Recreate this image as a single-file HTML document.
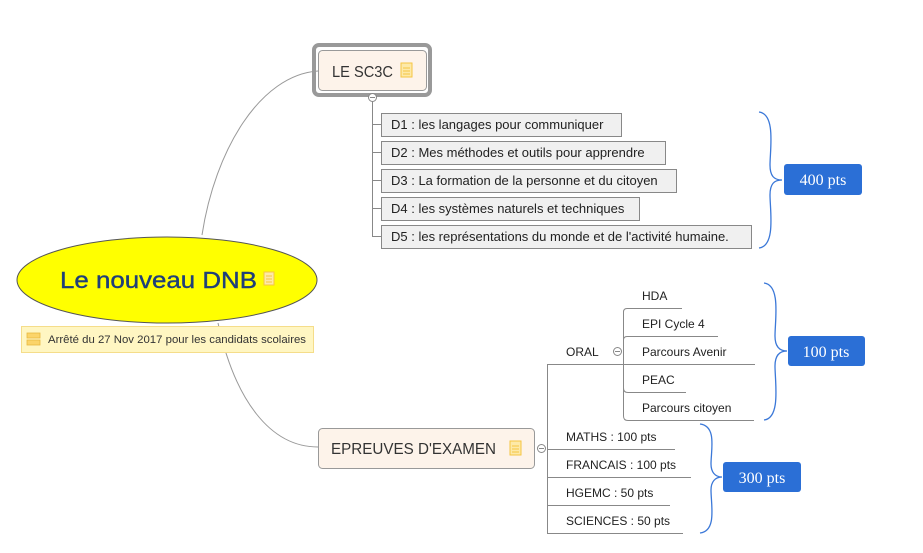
<!DOCTYPE html>
<html><head><meta charset="utf-8"><style>
html,body{margin:0;padding:0;background:#fff;}
svg{display:block;font-family:"Liberation Sans",sans-serif;}
</style></head><body>
<svg width="923" height="553" viewBox="0 0 923 553" xmlns="http://www.w3.org/2000/svg">
<path d="M202,235 C215,150 260,75 318,71" fill="none" stroke="#999" stroke-width="1"/>
<path d="M218,323 C235,400 270,447 318,447" fill="none" stroke="#999" stroke-width="1"/>

<ellipse cx="167" cy="280" rx="150" ry="43" fill="#ffff00" stroke="#555" stroke-width="1"/>
<text x="60" y="288" font-size="23" fill="#1f3f7a" textLength="197" lengthAdjust="spacingAndGlyphs" stroke="#1f3f7a" stroke-width="0.4">Le nouveau DNB</text>
<rect x="264" y="272" width="10" height="13" fill="#fde9a8" stroke="#f5c542"/>
<line x1="266" y1="276" x2="272" y2="276" stroke="#f5c542"/><line x1="266" y1="279" x2="272" y2="279" stroke="#f5c542"/><line x1="266" y1="282" x2="272" y2="282" stroke="#f5c542"/>

<rect x="21.5" y="326.5" width="292" height="26" fill="#fff6c2" stroke="#f5dd8a"/>
<rect x="27" y="333" width="13" height="5" fill="#fbd46a" stroke="#e8b840" stroke-width="0.8"/>
<rect x="27" y="340" width="13" height="5" fill="#fbd46a" stroke="#e8b840" stroke-width="0.8"/>
<text x="48" y="343" font-size="11" fill="#333" textLength="258" lengthAdjust="spacingAndGlyphs">Arrêté du 27 Nov 2017 pour les candidats scolaires</text>

<rect x="314" y="45" width="116" height="50" rx="5" fill="none" stroke="#999" stroke-width="4"/>
<rect x="318.5" y="50.5" width="108" height="40" rx="4" fill="#fdf3ea" stroke="#999"/>
<text x="332" y="77" font-size="16" fill="#333" textLength="61" lengthAdjust="spacingAndGlyphs">LE SC3C</text>
<rect x="401" y="63" width="11" height="14" fill="#fde9a8" stroke="#f5c542"/>
<line x1="403" y1="68" x2="410" y2="68" stroke="#f5c542"/><line x1="403" y1="71" x2="410" y2="71" stroke="#f5c542"/><line x1="403" y1="74" x2="410" y2="74" stroke="#f5c542"/>
<circle cx="372.5" cy="97.5" r="4" fill="#fff" stroke="#888"/>
<line x1="370" y1="97.5" x2="375" y2="97.5" stroke="#888"/>
<line x1="372.5" y1="101.5" x2="372.5" y2="237" stroke="#888"/>
<g stroke="#888"><line x1="372" y1="124.5" x2="381" y2="124.5"/><line x1="372" y1="152.5" x2="381" y2="152.5"/><line x1="372" y1="180.5" x2="381" y2="180.5"/><line x1="372" y1="208.5" x2="381" y2="208.5"/><line x1="372.5" y1="236.5" x2="381" y2="236.5"/></g>
<g fill="#f0f0f0" stroke="#888">
<rect x="381.5" y="113.5" width="240" height="23"/>
<rect x="381.5" y="141.5" width="284" height="23"/>
<rect x="381.5" y="169.5" width="295" height="23"/>
<rect x="381.5" y="197.5" width="258" height="23"/>
<rect x="381.5" y="225.5" width="370" height="23"/>
</g>
<g font-size="13" fill="#222">
<text x="391" y="129">D1 : les langages pour communiquer</text>
<text x="391" y="157">D2 : Mes méthodes et outils pour apprendre</text>
<text x="391" y="185">D3 : La formation de la personne et du citoyen</text>
<text x="391" y="213">D4 : les systèmes naturels et techniques</text>
<text x="391" y="241">D5 : les représentations du monde et de l'activité humaine.</text>
</g>

<g fill="none" stroke="#3b78d8" stroke-width="1.3">
<path d="M759,112 C776,114 770,150 770,165 C770,176 774,180 782,180 C774,180 770,184 770,195 C770,210 776,246 759,248"/>
<path d="M764,283 C781,285 775,320 775,336 C775,346 779,351 787,351 C779,351 775,356 775,366 C775,382 781,418 764,420"/>
<path d="M700,424 C717,426 711,450 711,464 C711,472 715,477 722,477 C715,477 711,482 711,490 C711,505 717,531 700,533"/>
</g>
<g fill="#2b6fd6">
<rect x="784" y="164" width="78" height="31" rx="3"/>
<rect x="788" y="336" width="77" height="30" rx="3"/>
<rect x="723" y="462" width="78" height="30" rx="3"/>
</g>
<g font-family="Liberation Serif,serif" font-size="16" fill="#fff" text-anchor="middle">
<text x="823" y="185">400 pts</text>
<text x="826" y="357">100 pts</text>
<text x="762" y="483">300 pts</text>
</g>

<rect x="318.5" y="428.5" width="216" height="40" rx="4" fill="#fdf3ea" stroke="#999"/>
<text x="331" y="454" font-size="16" fill="#333" textLength="165" lengthAdjust="spacingAndGlyphs">EPREUVES D'EXAMEN</text>
<rect x="510" y="441" width="11" height="14" fill="#fde9a8" stroke="#f5c542"/>
<line x1="512" y1="446" x2="519" y2="446" stroke="#f5c542"/><line x1="512" y1="449" x2="519" y2="449" stroke="#f5c542"/><line x1="512" y1="452" x2="519" y2="452" stroke="#f5c542"/>
<circle cx="541.5" cy="448.5" r="4" fill="#fff" stroke="#888"/>
<line x1="539" y1="448.5" x2="544" y2="448.5" stroke="#888"/>
<g stroke="#888" fill="none">
<line x1="547.5" y1="364" x2="547.5" y2="533"/>
<line x1="547" y1="364.5" x2="623" y2="364.5"/>
<line x1="547" y1="449.5" x2="675" y2="449.5"/>
<line x1="547" y1="477.5" x2="691" y2="477.5"/>
<line x1="547" y1="505.5" x2="670" y2="505.5"/>
<line x1="547" y1="533.5" x2="683" y2="533.5"/>
<path d="M682,308.5 L627,308.5 Q623.5,308.5 623.5,312 L623.5,416 Q623.5,420.5 628,420.5 L754,420.5"/>
<path d="M623.5,340 Q623.5,336.5 627,336.5 L718,336.5"/>
<line x1="623" y1="364.5" x2="755" y2="364.5"/>
<path d="M623.5,388 Q623.5,392.5 628,392.5 L686,392.5"/>
</g>
<circle cx="617.5" cy="351.5" r="4" fill="#fff" stroke="#888"/>
<line x1="615" y1="351.5" x2="620" y2="351.5" stroke="#888"/>
<g font-size="12" fill="#222">
<text x="566" y="356">ORAL</text>
<text x="642" y="300">HDA</text>
<text x="642" y="328">EPI Cycle 4</text>
<text x="642" y="356">Parcours  Avenir</text>
<text x="642" y="384">PEAC</text>
<text x="642" y="412">Parcours citoyen</text>
<text x="566" y="441">MATHS : 100 pts</text>
<text x="566" y="469">FRANCAIS : 100 pts</text>
<text x="566" y="497">HGEMC : 50 pts</text>
<text x="566" y="525">SCIENCES : 50 pts</text>
</g>
</svg>
</body></html>
